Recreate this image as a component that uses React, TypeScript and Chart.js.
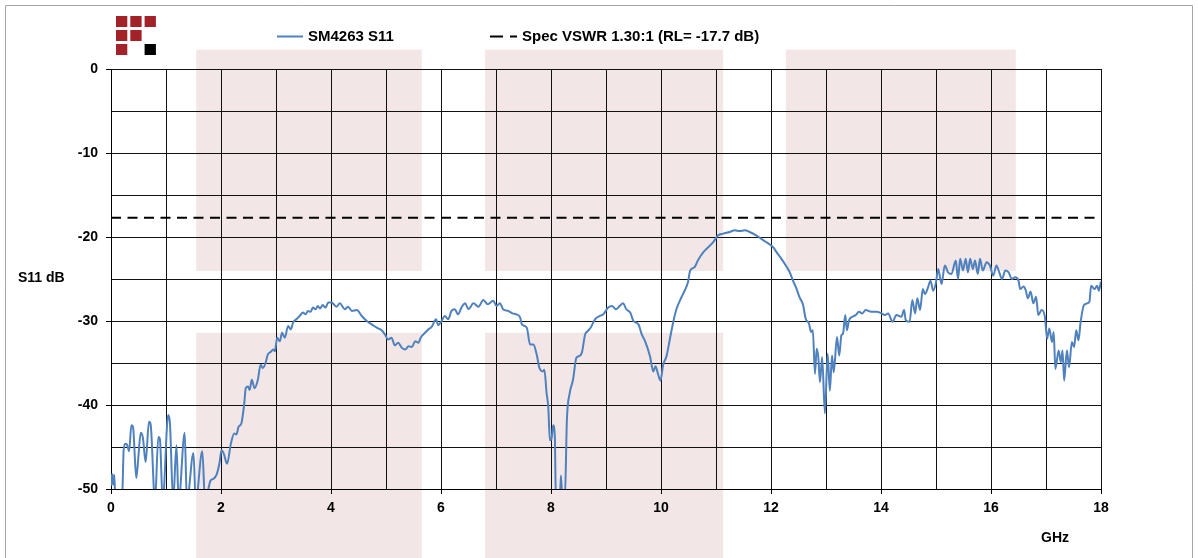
import React, { useEffect, useRef } from "react";
import { Chart, registerables } from "chart.js";

Chart.register(...registerables);

const freqGHz = [
  0.00, 0.02, 0.04, 0.06, 0.08, 0.20, 0.23, 0.26, 0.29, 0.33, 0.37, 0.40, 0.46, 0.50, 0.54, 0.58, 0.63, 0.69, 0.72, 0.80,
  0.86, 0.89, 0.94, 1.04, 1.07, 1.13, 1.19, 1.23, 1.34, 1.38, 1.50, 1.54, 1.66, 1.71, 1.81, 1.86, 1.92, 1.97, 2.01, 2.05,
  2.11, 2.18, 2.24, 2.28, 2.32, 2.37, 2.42, 2.45, 2.49, 2.52, 2.56, 2.61, 2.67, 2.72, 2.76, 2.81, 2.85, 2.90, 2.95, 2.98,
  3.02, 3.07, 3.11, 3.16, 3.22, 3.27, 3.31, 3.37, 3.43, 3.49, 3.54, 3.58, 3.63, 3.67, 3.72, 3.76, 3.80, 3.85, 3.90, 3.95,
  4.01, 4.10, 4.16, 4.25, 4.31, 4.38, 4.47, 4.56, 4.65, 4.74, 4.83, 4.92, 4.98, 5.04, 5.10, 5.16, 5.22, 5.29, 5.35, 5.41,
  5.47, 5.53, 5.59, 5.63, 5.71, 5.77, 5.83, 5.91, 5.95, 6.01, 6.07, 6.13, 6.19, 6.25, 6.31, 6.38, 6.44, 6.50, 6.59, 6.68,
  6.77, 6.85, 6.95, 7.01, 7.07, 7.13, 7.22, 7.30, 7.37, 7.44, 7.47, 7.56, 7.62, 7.68, 7.74, 7.79, 7.85, 7.88, 7.92, 7.95,
  7.98, 8.01, 8.04, 8.07, 8.09, 8.16, 8.18, 8.21, 8.25, 8.29, 8.34, 8.40, 8.46, 8.50, 8.56, 8.62, 8.67, 8.72, 8.80, 8.89,
  8.95, 9.04, 9.11, 9.18, 9.25, 9.31, 9.37, 9.44, 9.50, 9.59, 9.65, 9.71, 9.80, 9.86, 9.90, 9.95, 9.99, 10.04, 10.10, 10.16,
  10.22, 10.28, 10.37, 10.43, 10.49, 10.53, 10.61, 10.67, 10.77, 10.86, 10.95, 11.04, 11.13, 11.25, 11.34, 11.43, 11.52, 11.61, 11.73, 11.82,
  11.91, 11.98, 12.05, 12.10, 12.19, 12.28, 12.34, 12.40, 12.46, 12.52, 12.58, 12.63, 12.69, 12.73, 12.76, 12.80, 12.83, 12.86, 12.89, 12.93,
  12.98, 13.03, 13.07, 13.11, 13.14, 13.20, 13.24, 13.28, 13.31, 13.35, 13.38, 13.42, 13.48, 13.54, 13.60, 13.66, 13.72, 13.82, 13.92, 14.01,
  14.07, 14.13, 14.21, 14.28, 14.37, 14.42, 14.45, 14.52, 14.57, 14.62, 14.66, 14.71, 14.76, 14.80, 14.86, 14.90, 14.95, 15.00, 15.04, 15.10,
  15.16, 15.22, 15.28, 15.36, 15.40, 15.44, 15.49, 15.54, 15.58, 15.62, 15.67, 15.71, 15.76, 15.80, 15.85, 15.92, 15.98, 16.04, 16.10, 16.15,
  16.20, 16.26, 16.32, 16.38, 16.44, 16.50, 16.53, 16.59, 16.63, 16.67, 16.72, 16.77, 16.82, 16.86, 16.92, 16.98, 17.02, 17.06, 17.11, 17.14,
  17.17, 17.23, 17.27, 17.30, 17.33, 17.38, 17.42, 17.47, 17.51, 17.55, 17.59, 17.63, 17.69, 17.75, 17.79, 17.82, 17.88, 17.93, 17.96, 18.00,
];

const s11dB = [
  -49.6, -48.2, -49.5, -48.3, -51.5, -51.5, -45.4, -44.6, -44.7, -45.5, -42.4, -42.6, -48.7, -46.0, -43.3, -43.9, -46.8, -42.0, -42.3, -51.5,
  -43.8, -44.1, -51.5, -41.2, -42.0, -51.5, -44.8, -51.5, -43.3, -51.5, -45.7, -51.5, -45.5, -51.5, -49.0, -48.8, -48.3, -47.0, -45.4, -45.8,
  -47.0, -44.6, -43.4, -43.5, -42.6, -42.2, -40.0, -38.0, -37.8, -38.2, -37.0, -38.0, -37.0, -35.2, -35.6, -35.0, -34.0, -33.7, -33.4, -33.6,
  -32.0, -32.4, -31.4, -32.0, -30.6, -31.0, -30.2, -29.8, -29.4, -29.0, -29.2, -28.8, -28.9, -28.4, -28.6, -28.2, -28.5, -28.1, -28.4, -27.8,
  -27.8, -28.3, -27.9, -28.6, -28.3, -28.8, -28.7, -29.4, -30.0, -30.4, -30.8, -31.1, -31.6, -32.2, -32.0, -32.9, -32.6, -33.2, -33.4, -33.0,
  -33.1, -32.4, -32.6, -32.0, -31.4, -31.0, -30.7, -29.8, -30.5, -30.0, -29.4, -29.8, -28.8, -28.6, -29.2, -28.3, -27.9, -28.6, -27.9, -28.3,
  -27.5, -28.0, -27.6, -28.2, -27.9, -28.6, -28.8, -29.1, -29.2, -29.6, -30.4, -30.8, -32.8, -32.8, -34.0, -35.6, -36.0, -35.8, -38.6, -40.2,
  -44.2, -44.0, -42.4, -43.8, -51.5, -51.5, -48.4, -51.5, -51.5, -41.6, -38.6, -37.0, -34.4, -34.2, -33.8, -31.6, -31.2, -30.8, -29.8, -29.4,
  -29.2, -28.4, -28.2, -28.6, -28.2, -27.9, -28.6, -29.0, -30.0, -30.4, -31.6, -32.4, -34.2, -36.0, -35.4, -36.4, -37.1, -35.2, -34.2, -32.2,
  -30.2, -28.6, -27.2, -26.4, -25.4, -24.0, -23.6, -22.8, -21.8, -21.2, -20.6, -19.8, -19.6, -19.4, -19.2, -19.3, -19.2, -19.4, -19.8, -20.2,
  -20.6, -20.9, -21.3, -21.8, -22.6, -23.5, -24.2, -25.2, -26.1, -27.2, -28.0, -29.7, -30.3, -31.3, -31.1, -36.3, -33.3, -34.3, -37.3, -34.3,
  -41.0, -33.9, -38.3, -34.1, -36.1, -31.9, -34.1, -31.7, -31.5, -29.3, -31.1, -29.9, -29.5, -29.3, -28.9, -29.1, -28.7, -28.9, -28.9, -29.1,
  -29.3, -29.1, -30.1, -29.3, -29.5, -28.7, -29.9, -30.1, -27.5, -29.1, -27.3, -28.7, -26.2, -26.8, -25.9, -25.2, -26.4, -25.4, -23.8, -25.6,
  -23.4, -24.2, -24.4, -22.8, -25.0, -22.6, -24.0, -22.6, -24.2, -22.6, -23.8, -22.8, -24.4, -22.6, -24.0, -23.0, -23.4, -24.6, -23.4, -24.2,
  -25.0, -24.0, -24.2, -25.0, -24.8, -25.2, -26.2, -25.9, -26.3, -27.3, -26.5, -27.9, -27.1, -29.3, -28.7, -29.5, -32.1, -30.9, -32.5, -31.3,
  -35.7, -33.5, -34.9, -33.5, -37.1, -33.5, -35.5, -32.5, -33.1, -31.1, -32.3, -30.1, -28.1, -27.9, -27.7, -25.8, -26.2, -25.8, -26.4, -25.3,
];

// Spec limit: VSWR 1.30:1 -> return loss -17.7 dB
const specRLdB = -17.7;

// Axis range
const xMinGHz = 0;
const xMaxGHz = 18;
const yMinDb = -50;
const yMaxDb = 0;

// Shaded frequency bands (GHz) and their dB extents
const bandStartGHz = [1.55, 6.8, 12.27];
const bandEndGHz = [5.65, 11.13, 16.45];
const bandUpperTopDb = [2.3, 2.3, 2.3];
const bandUpperBottomDb = [-24.05, -24.05, -24.05];
const bandLowerTopDb = [-31.4, -31.4, null];
const bandLowerBottomDb = [-60, -60, null];

// Texts
const seriesLabel = "SM4263 S11";
const specLabel = "Spec VSWR 1.30:1 (RL= -17.7 dB)";
const yTitle = "S11 dB";
const xTitle = "GHz";

const FONT = "'Liberation Sans', Arial, sans-serif";
const BLUE = "#4f81bd";
const PINK = "#f2e6e6";
const LOGO_RED = "#a3222a";

const decorPlugin = {
  id: "decor",
  beforeDraw(chart: any) {
    const { ctx, scales } = chart;
    const x = scales.x;
    const y = scales.y;
    ctx.save();

    // outer frame
    ctx.strokeStyle = "#a6a6a6";
    ctx.lineWidth = 1;
    ctx.beginPath();
    ctx.moveTo(5.5, chart.height + 5);
    ctx.lineTo(5.5, 5.5);
    ctx.lineTo(1192.5, 5.5);
    ctx.lineTo(1192.5, chart.height + 5);
    ctx.stroke();

    // shaded bands
    ctx.fillStyle = PINK;
    for (let i = 0; i < bandStartGHz.length; i++) {
      const l = x.getPixelForValue(bandStartGHz[i]);
      const r = x.getPixelForValue(bandEndGHz[i]);
      const t1 = y.getPixelForValue(bandUpperTopDb[i]);
      const b1 = y.getPixelForValue(bandUpperBottomDb[i]);
      ctx.fillRect(l, t1, r - l, b1 - t1);
      const lt = bandLowerTopDb[i];
      const lb = bandLowerBottomDb[i];
      if (lt !== null && lb !== null) {
        const t2 = y.getPixelForValue(lt);
        const b2 = y.getPixelForValue(lb);
        ctx.fillRect(l, t2, r - l, b2 - t2);
      }
    }

    // logo
    const cells = [
      [0, 0, LOGO_RED], [1, 0, LOGO_RED], [2, 0, LOGO_RED],
      [0, 1, LOGO_RED], [1, 1, LOGO_RED],
      [0, 2, LOGO_RED], [2, 2, "#000000"],
    ];
    for (const [c, r, col] of cells as any) {
      ctx.fillStyle = col;
      ctx.fillRect(116 + c * 14.3, 16 + r * 14, 11.3, 11);
    }

    // legend
    ctx.font = `bold 15px ${FONT}`;
    ctx.textBaseline = "middle";
    ctx.textAlign = "left";
    ctx.fillStyle = "#000";
    ctx.strokeStyle = BLUE;
    ctx.lineWidth = 2;
    ctx.beginPath();
    ctx.moveTo(277, 36.5);
    ctx.lineTo(303, 36.5);
    ctx.stroke();
    ctx.fillText(seriesLabel, 308, 36.5);
    ctx.strokeStyle = "#000";
    ctx.beginPath();
    ctx.moveTo(490, 36.5);
    ctx.lineTo(503, 36.5);
    ctx.moveTo(510, 36.5);
    ctx.lineTo(517, 36.5);
    ctx.stroke();
    ctx.fillText(specLabel, 522, 36.5);

    // axis titles
    ctx.font = `bold 14px ${FONT}`;
    ctx.fillText(yTitle, 18, 278);
    ctx.fillText(xTitle, 1041, 538);

    ctx.restore();
  },
};

export default function App() {
  const ref = useRef<HTMLCanvasElement | null>(null);

  useEffect(() => {
    if (!ref.current) return;
    const s11Points = freqGHz.map((f, i) => ({ x: f, y: s11dB[i] }));
    const specPoints = [
      { x: xMinGHz, y: specRLdB },
      { x: xMaxGHz, y: specRLdB },
    ];
    const tickFont = { family: FONT, size: 14, weight: "bold" as const };
    const chart = new Chart(ref.current, {
      type: "line",
      data: {
        datasets: [
          {
            label: specLabel,
            data: specPoints,
            borderColor: "#000",
            borderWidth: 2,
            borderDash: [10, 6.5],
            pointRadius: 0,
            fill: false,
          },
          {
            label: seriesLabel,
            data: s11Points,
            borderColor: BLUE,
            borderWidth: 2,
            pointRadius: 0,
            cubicInterpolationMode: "monotone",
            fill: false,
          },
        ],
      },
      options: {
        responsive: false,
        animation: false,
        events: [],
        layout: { padding: { left: 0, right: 97, top: 69, bottom: 0 } },
        plugins: { legend: { display: false }, tooltip: { enabled: false } },
        scales: {
          x: {
            type: "linear",
            min: xMinGHz,
            max: xMaxGHz,
            afterFit: (s: any) => {
              s.height = 69;
            },
            ticks: {
              stepSize: 1,
              autoSkip: false,
              maxRotation: 0,
              padding: 6,
              color: "#000",
              font: tickFont,
              callback: (v: any) => (Number(v) % 2 === 0 ? String(v) : ""),
            },
            grid: {
              color: "#111",
              lineWidth: 1,
              tickLength: 5,
              tickColor: (c: any) => (c.tick && Number(c.tick.value) % 2 === 0 ? "#000" : "rgba(0,0,0,0)"),
            },
            border: { color: "#000", width: 1 },
          },
          y: {
            type: "linear",
            min: yMinDb,
            max: yMaxDb,
            afterFit: (s: any) => {
              s.width = 111;
            },
            ticks: {
              stepSize: 5,
              autoSkip: false,
              padding: 8,
              color: "#000",
              font: tickFont,
              callback: (v: any) => (Number(v) % 10 === 0 ? String(v) : ""),
            },
            grid: {
              color: "#111",
              lineWidth: 1,
              tickLength: 5,
              tickColor: (c: any) => (c.tick && Number(c.tick.value) % 10 === 0 ? "#000" : "rgba(0,0,0,0)"),
            },
            border: { color: "#000", width: 1 },
          },
        },
      },
      plugins: [decorPlugin],
    });
    return () => chart.destroy();
  }, []);

  return (
    <div style={{ position: "fixed", left: 0, top: 0, width: 1198, height: 558, background: "#fff" }}>
      <canvas ref={ref} width={1198} height={558} style={{ display: "block", width: 1198, height: 558 }} />
    </div>
  );
}
